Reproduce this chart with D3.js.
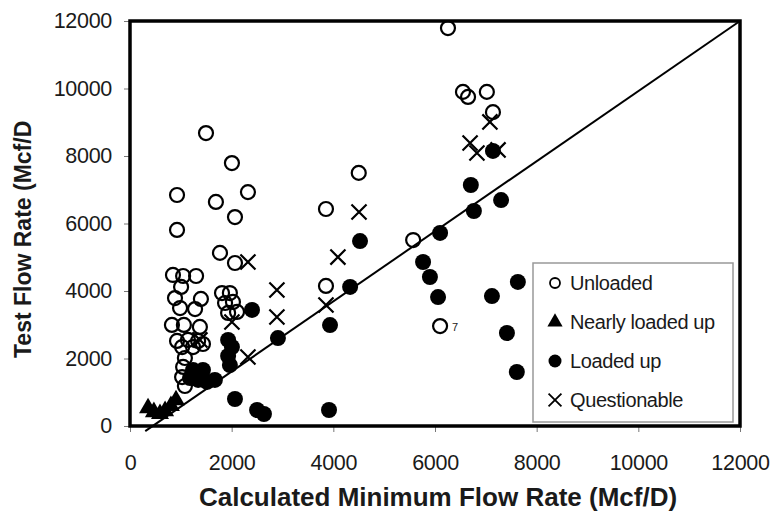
<!DOCTYPE html>
<html>
<head>
<meta charset="utf-8">
<script src="https://cdn.jsdelivr.net/npm/d3@7"></script>
<style>
  body { margin: 0; background: #fff; }
  text { fill: #1a1a1a; }
</style>
</head>
<body>
<svg id="chart" width="774" height="521"></svg>
<script>
// values, [calculated, test] in Mcf/D
var unloaded = [
  [6255, 11790], [6550, 9900], [6650, 9750], [7020, 9900], [7140, 9300],
  [5570, 5510], [6100, 2960], [4500, 7500], [3855, 6430], [3855, 4150],
  [2320, 6930], [1495, 8680], [2005, 7790], [925, 6845], [1690, 6640],
  [2065, 6190], [925, 5810], [1770, 5130], [2065, 4830],
  [845, 4475], [1045, 4445], [1300, 4445], [1005, 4120], [885, 3790],
  [1395, 3765], [985, 3495], [1280, 3465], [825, 2995], [1060, 2995],
  [1375, 2935], [925, 2520], [1140, 2550], [1340, 2520], [1435, 2430],
  [1025, 2340], [1240, 2340], [1080, 2015], [1045, 1750], [1025, 1450],
  [1080, 1185],
  [1810, 3940], [1965, 3940], [1870, 3645], [2025, 3675], [1930, 3350],
  [2105, 3380]
];
var nearlyLoaded = [
  [355, 530], [470, 415], [590, 360], [690, 445], [805, 595], [905, 770]
];
var loadedUp = [
  [4525, 5480], [4330, 4120], [3935, 2990], [2910, 2605], [2400, 3440],
  [2500, 475], [2635, 355], [3915, 475], [6100, 5720], [5765, 4860],
  [5900, 4415], [6060, 3820], [7140, 8150], [6705, 7140], [6765, 6370],
  [7300, 6695], [7630, 4270], [7120, 3850], [7415, 2755], [7610, 1600],
  [2065, 800], [1930, 2550], [2005, 2340], [1930, 2075], [1965, 1805],
  [1670, 1365], [1240, 1660], [1435, 1660], [1340, 1365], [1515, 1305],
  [1180, 1420]
];
var questionable = [
  [6690, 8385], [6825, 8090], [7080, 9010], [7240, 8180], [4505, 6340],
  [4090, 5005], [3855, 3585], [2890, 4030], [2890, 3230], [2320, 4860],
  [2320, 2045], [2005, 3080], [1375, 2550]
];
var refLine = [[300, -150], [12000, 12000]];
var pointNote = { at: [6100, 2960], text: "7" };
var xTicks = [0, 2000, 4000, 6000, 8000, 10000, 12000];
var yTicks = [0, 2000, 4000, 6000, 8000, 10000, 12000];
var legendItems = ["Unloaded", "Nearly loaded up", "Loaded up", "Questionable"];

var svg = d3.select("#chart");
var margin = { top: 21, right: 34, bottom: 95, left: 130 };
var width = 774 - margin.left - margin.right;
var height = 521 - margin.top - margin.bottom;
var sans = "'Liberation Sans', Arial, sans-serif";

var x = d3.scaleLinear().domain([0, 12000]).range([0, width]);
var y = d3.scaleLinear().domain([0, 12000]).range([height, 0]);

var g = svg.append("g").attr("transform", "translate(" + margin.left + "," + margin.top + ")");

// axes
var xAxis = g.append("g").attr("transform", "translate(0," + height + ")")
  .call(d3.axisBottom(x).tickValues(xTicks).tickSize(6).tickPadding(23).tickFormat(d3.format("d")));
var yAxis = g.append("g")
  .call(d3.axisLeft(y).tickValues(yTicks).tickSize(6).tickPadding(12).tickFormat(d3.format("d")));
[xAxis, yAxis].forEach(function (a) {
  a.select(".domain").remove();
  a.selectAll(".tick line").attr("stroke", "#777").attr("stroke-width", 1);
  a.selectAll(".tick text").attr("font-family", sans)
    .attr("font-size", 21.5).attr("letter-spacing", -0.3).attr("fill", "#1a1a1a");
});

// 1:1 line
var line = d3.line().x(function (d) { return x(d[0]); }).y(function (d) { return y(d[1]); });
g.append("path").datum(refLine).attr("d", line)
  .attr("fill", "none").attr("stroke", "#000").attr("stroke-width", 2);

// markers
g.selectAll(".unl").data(unloaded).enter().append("circle")
  .attr("cx", function (d) { return x(d[0]); }).attr("cy", function (d) { return y(d[1]); })
  .attr("r", 7).attr("fill", "none").attr("stroke", "#000").attr("stroke-width", 2.2);

var tri = d3.symbol().type(d3.symbolTriangle).size(140);
g.selectAll(".nl").data(nearlyLoaded).enter().append("path")
  .attr("d", tri)
  .attr("transform", function (d) { return "translate(" + x(d[0]) + "," + y(d[1]) + ")"; })
  .attr("fill", "#000");

g.selectAll(".lu").data(loadedUp).enter().append("circle")
  .attr("cx", function (d) { return x(d[0]); }).attr("cy", function (d) { return y(d[1]); })
  .attr("r", 8).attr("fill", "#000");

var cross = d3.symbol().type(d3.symbolX).size(150);
g.selectAll(".q").data(questionable).enter().append("path")
  .attr("d", cross)
  .attr("transform", function (d) { return "translate(" + x(d[0]) + "," + y(d[1]) + ")"; })
  .attr("fill", "none").attr("stroke", "#000").attr("stroke-width", 2.2);

g.append("text")
  .attr("x", x(pointNote.at[0]) + 12).attr("y", y(pointNote.at[1]) + 5)
  .attr("font-family", sans).attr("font-size", 11).text(pointNote.text);

// frame
g.append("rect").attr("width", width).attr("height", height)
  .attr("fill", "none").attr("stroke", "#000").attr("stroke-width", 3.5);

// legend
var lg = g.append("g").attr("transform", "translate(" + (533 - margin.left) + "," + (263 - margin.top) + ")");
lg.append("rect").attr("width", 200).attr("height", 159)
  .attr("fill", "#fff").attr("stroke", "#999").attr("stroke-width", 1.5);
legendItems.forEach(function (name, i) {
  var row = lg.append("g").attr("transform", "translate(22," + (20 + i * 39) + ")");
  if (i === 0) row.append("circle").attr("r", 5).attr("fill", "none").attr("stroke", "#000").attr("stroke-width", 1.8);
  if (i === 1) row.append("path").attr("d", d3.symbol().type(d3.symbolTriangle).size(100)).attr("fill", "#000");
  if (i === 2) row.append("circle").attr("r", 6.5).attr("fill", "#000");
  if (i === 3) row.append("path").attr("d", d3.symbol().type(d3.symbolX).size(110))
    .attr("fill", "none").attr("stroke", "#000").attr("stroke-width", 1.8);
  row.append("text").attr("x", 15).attr("dy", "0.36em")
    .attr("font-family", sans).attr("font-size", 20).attr("letter-spacing", -0.4).text(name);
});

// titles
svg.append("text").attr("x", (200 + 676) / 2).attr("y", 506).attr("text-anchor", "middle")
  .attr("font-family", sans).attr("font-weight", "bold").attr("font-size", 26)
  .text("Calculated Minimum Flow Rate (Mcf/D)");
svg.append("text").attr("transform", "translate(31,358) rotate(-90)")
  .attr("font-family", sans).attr("font-weight", "bold").attr("font-size", 23)
  .text("Test Flow Rate (Mcf/D");
</script>
</body>
</html>
